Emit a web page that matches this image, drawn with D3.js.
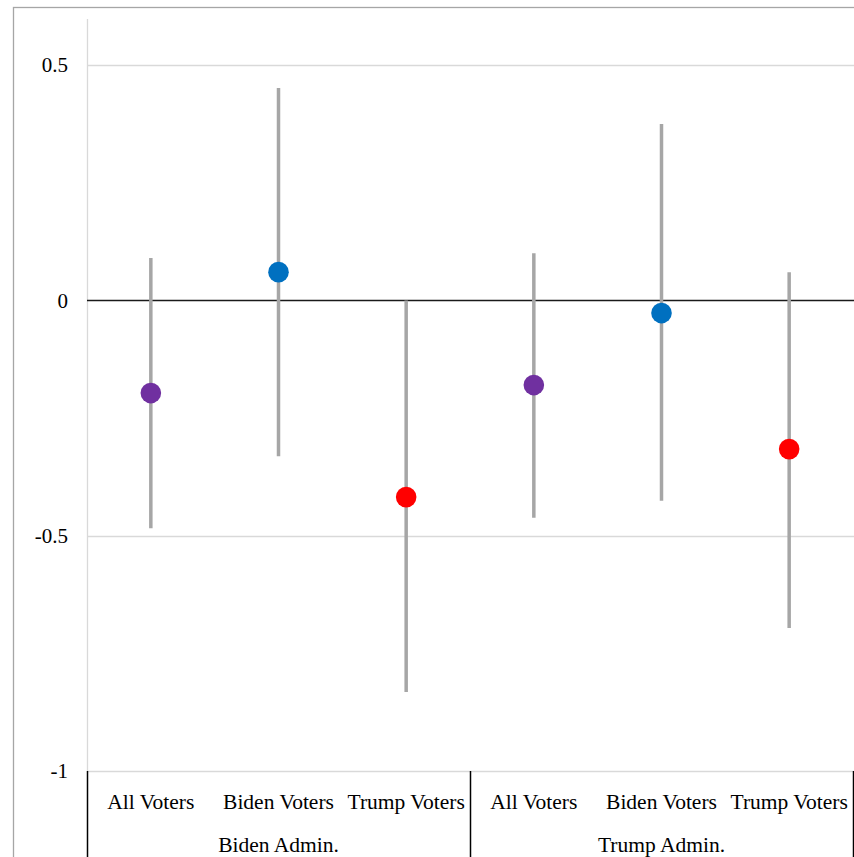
<!DOCTYPE html>
<html>
<head>
<meta charset="utf-8">
<script src="https://cdn.jsdelivr.net/npm/d3@7"></script>
<style>
  html, body { margin: 0; padding: 0; background: #fff; }
  svg { display: block; }
  text { font-family: "Liberation Serif", "Times New Roman", serif; fill: #000; }
</style>
</head>
<body>
<svg id="chart" width="854" height="857"></svg>
<script>
// ---- data ----
const groups = ["Biden Admin.", "Trump Admin."];
const categories = ["All Voters", "Biden Voters", "Trump Voters"];
const estimate = [-0.197, 0.060, -0.418, -0.180, -0.027, -0.316];
const upper    = [0.090, 0.451, 0.000, 0.100, 0.375, 0.060];
const lower    = [-0.484, -0.331, -0.832, -0.462, -0.426, -0.696];
const colors   = ["#7030A0", "#0070C0", "#FF0000", "#7030A0", "#0070C0", "#FF0000"];
const yTicks   = [0.5, 0, -0.5, -1];
const yTickLabels = ["0.5", "0", "-0.5", "-1"];

(function () {
// ---- layout ----
const svg = d3.select("#chart");
const plotL = 87, plotR = 853, plotT = 18, plotB = 771;

const rows = [];
groups.forEach((g, gi) => categories.forEach((c, ci) => {
  const i = gi * categories.length + ci;
  rows.push({ key: g + "|" + c, group: g, cat: c, est: estimate[i], hi: upper[i], lo: lower[i], color: colors[i] });
}));

const x = d3.scaleBand().domain(rows.map(d => d.key)).range([plotL, plotR]).padding(0);
const y = d3.scaleLinear().domain([-1, 0.6]).range([plotB, plotT]);

// outer chart border
svg.append("rect").attr("x", 13.5).attr("y", 7.5).attr("width", 900).attr("height", 900)
  .attr("fill", "none").attr("stroke", "#a6a6a6").attr("stroke-width", 1.3);

// gridlines
svg.append("g").selectAll("line").data(yTicks.filter(t => t !== 0)).join("line")
  .attr("x1", plotL).attr("x2", 854)
  .attr("y1", d => Math.round(y(d)) + 0.5).attr("y2", d => Math.round(y(d)) + 0.5)
  .attr("stroke", "#d9d9d9").attr("stroke-width", 1.3);

// value axis line (light)
svg.append("line").attr("x1", plotL + 0.5).attr("x2", plotL + 0.5).attr("y1", 19).attr("y2", plotB)
  .attr("stroke", "#d9d9d9").attr("stroke-width", 1.3);

// y axis labels via d3 axis
const yAxis = d3.axisLeft(y).tickValues(yTicks).tickFormat((d, i) => yTickLabels[i]).tickSize(0).tickPadding(19);
const ya = svg.append("g").attr("transform", `translate(${plotL},0)`).call(yAxis);
ya.select(".domain").remove();
ya.selectAll("text").attr("font-size", 21).attr("font-family", "Liberation Serif, serif").attr("fill", "#000");

// zero line
svg.append("line").attr("x1", plotL).attr("x2", 854)
  .attr("y1", Math.round(y(0)) + 0.5).attr("y2", Math.round(y(0)) + 0.5)
  .attr("stroke", "#1a1a1a").attr("stroke-width", 1.5);

// error bars
svg.append("g").selectAll("line").data(rows).join("line")
  .attr("x1", d => x(d.key) + x.bandwidth() / 2).attr("x2", d => x(d.key) + x.bandwidth() / 2)
  .attr("y1", d => y(d.hi)).attr("y2", d => y(d.lo))
  .attr("stroke", "#A6A6A6").attr("stroke-width", 3.5);

// points
svg.append("g").selectAll("circle").data(rows).join("circle")
  .attr("cx", d => x(d.key) + x.bandwidth() / 2).attr("cy", d => y(d.est))
  .attr("r", 10.3).attr("fill", d => d.color);

// category axis (multi-level)
const catG = svg.append("g");
catG.selectAll("text.cat").data(rows).join("text").attr("class", "cat")
  .attr("x", d => x(d.key) + x.bandwidth() / 2).attr("y", 809)
  .attr("text-anchor", "middle").attr("font-size", 21.5).text(d => d.cat);

const groupX = groups.map((g, gi) => {
  const first = rows[gi * categories.length].key;
  const last = rows[gi * categories.length + categories.length - 1].key;
  return { g, x0: x(first), x1: x(last) + x.bandwidth() };
});
catG.selectAll("text.grp").data(groupX).join("text").attr("class", "grp")
  .attr("x", d => (d.x0 + d.x1) / 2).attr("y", 852)
  .attr("text-anchor", "middle").attr("font-size", 21.5).text(d => d.g);

const seps = [groupX[0].x0, groupX[0].x1, groupX[1].x1];
catG.selectAll("line.sep").data(seps).join("line").attr("class", "sep")
  .attr("x1", d => Math.round(d) + 0.5).attr("x2", d => Math.round(d) + 0.5)
  .attr("y1", plotB).attr("y2", 857)
  .attr("stroke", "#000").attr("stroke-width", 1.5);
})();
</script>
</body>
</html>
